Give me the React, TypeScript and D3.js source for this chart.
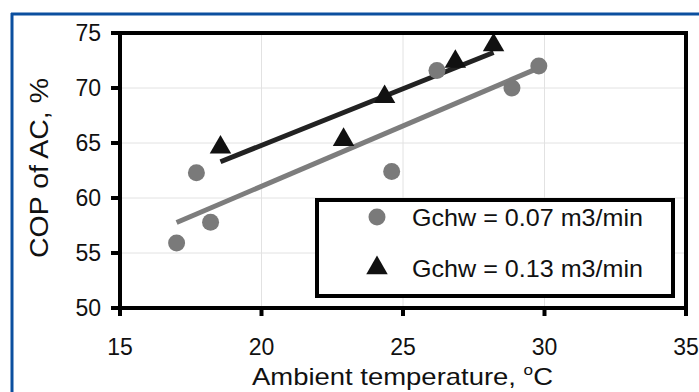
import React from 'react';
import * as d3 from 'd3';

// Gchw = 0.07 m3/min (gray circles)
const lowFlowTemp = [17.0, 17.7, 18.2, 24.6, 26.2, 28.85, 29.8];
const lowFlowCop = [55.9, 62.3, 57.8, 62.4, 71.6, 70.0, 72.0];

// Gchw = 0.13 m3/min (black triangles)
const highFlowTemp = [18.55, 22.9, 24.35, 26.85, 28.2];
const highFlowCop = [64.6, 65.3, 69.2, 72.4, 73.9];

const xTicks = [15, 20, 25, 30, 35];
const yTicks = [50, 55, 60, 65, 70, 75];

const legendLabels = ['Gchw = 0.07 m3/min', 'Gchw = 0.13 m3/min'];

const W = 699;
const H = 392;
const FONT = "'Liberation Sans', Arial, sans-serif";

// least-squares trendline, like the spreadsheet one
const fit = (xs: number[], ys: number[]) => {
  const mx = d3.mean(xs) as number;
  const my = d3.mean(ys) as number;
  const num = d3.sum(xs, (x, i) => (x - mx) * (ys[i] - my));
  const den = d3.sum(xs, (x) => (x - mx) * (x - mx));
  const slope = num / den;
  const [x0, x1] = d3.extent(xs) as [number, number];
  return [
    [x0, my + slope * (x0 - mx)],
    [x1, my + slope * (x1 - mx)],
  ];
};

const App = () => {
  const margin = { top: 33, right: 13, bottom: 84, left: 120 };

  const x = d3.scaleLinear().domain([15, 35]).range([margin.left, W - margin.right]);
  const y = d3.scaleLinear().domain([50, 75]).range([H - margin.bottom, margin.top]);

  const line = d3
    .line<number[]>()
    .x((d) => x(d[0]))
    .y((d) => y(d[1]));

  const lowTrend = fit(lowFlowTemp, lowFlowCop);
  const highTrend = fit(highFlowTemp, highFlowCop);

  const tri = d3.symbol().type(d3.symbolTriangle).size(200)();

  const plotL = x(15);
  const plotR = x(35);
  const plotT = y(75);
  const plotB = y(50);

  return (
    <svg
      width={W}
      height={H}
      style={{ position: 'absolute', left: 0, top: 0, background: '#fff' }}
      fontFamily={FONT}
    >
      {/* blue frame of the figure */}
      <line x1={11} x2={W} y1={14} y2={14} stroke="#0b4f9f" strokeWidth={3} />
      <line x1={12} x2={12} y1={13} y2={H} stroke="#0b4f9f" strokeWidth={3} />

      {/* gridlines */}
      {yTicks.map((t) => (
        <line key={'gy' + t} x1={plotL} x2={plotR} y1={y(t)} y2={y(t)} stroke="#e2e2e2" strokeWidth={1} />
      ))}
      {xTicks.map((t) => (
        <line key={'gx' + t} x1={x(t)} x2={x(t)} y1={plotT} y2={plotB} stroke="#e2e2e2" strokeWidth={1} />
      ))}

      {/* trend lines */}
      <path d={line(lowTrend) as string} stroke="#7d7d7d" strokeWidth={5} fill="none" />
      <path d={line(highTrend) as string} stroke="#222" strokeWidth={5} fill="none" />

      {/* points */}
      {lowFlowTemp.map((t, i) => (
        <circle key={'c' + i} cx={x(t)} cy={y(lowFlowCop[i])} r={8.5} fill="#7a7a7a" />
      ))}
      {highFlowTemp.map((t, i) => (
        <path key={'t' + i} d={tri as string} transform={`translate(${x(t)},${y(highFlowCop[i])})`} fill="#111" />
      ))}

      {/* plot border */}
      <rect x={plotL} y={plotT} width={plotR - plotL} height={plotB - plotT} fill="none" stroke="#000" strokeWidth={4} />

      {/* y axis ticks and labels */}
      {yTicks.map((t) => (
        <g key={'yt' + t}>
          <line x1={plotL - 9} x2={plotL} y1={y(t)} y2={y(t)} stroke="#000" strokeWidth={4} />
          <text x={101} y={y(t)} dy="0.36em" textAnchor="end" fontSize={23} fill="#111">
            {t}
          </text>
        </g>
      ))}

      {/* x axis ticks and labels */}
      {xTicks.map((t) => (
        <g key={'xt' + t}>
          <line x1={x(t)} x2={x(t)} y1={plotB} y2={plotB + 8} stroke="#000" strokeWidth={4} />
          <text x={x(t)} y={355} textAnchor="middle" fontSize={23} fill="#111">
            {t}
          </text>
        </g>
      ))}

      {/* axis titles */}
      <text x={252} y={385} fontSize={24} fill="#111" textLength={301} lengthAdjust="spacingAndGlyphs">
        Ambient temperature,{' '}
        <tspan fontSize={15} dy={-10}>
          o
        </tspan>
        <tspan dy={10}>C</tspan>
      </text>
      <text
        transform="translate(48,168) rotate(-90)"
        textAnchor="middle"
        fontSize={25}
        fill="#111"
        textLength={180}
        lengthAdjust="spacingAndGlyphs"
      >
        COP of AC, %
      </text>

      {/* legend */}
      <rect x={317} y={200} width={356} height={96} fill="#fff" stroke="#000" strokeWidth={4} />
      <circle cx={377} cy={217} r={8.5} fill="#7a7a7a" />
      <path d={tri as string} transform="translate(377,268)" fill="#111" />
      {legendLabels.map((l, i) => (
        <text
          key={l}
          x={412}
          y={217 + i * 51}
          dy="0.36em"
          fontSize={24}
          fill="#111"
          textLength={231}
          lengthAdjust="spacingAndGlyphs"
        >
          {l}
        </text>
      ))}
    </svg>
  );
};

export default App;
